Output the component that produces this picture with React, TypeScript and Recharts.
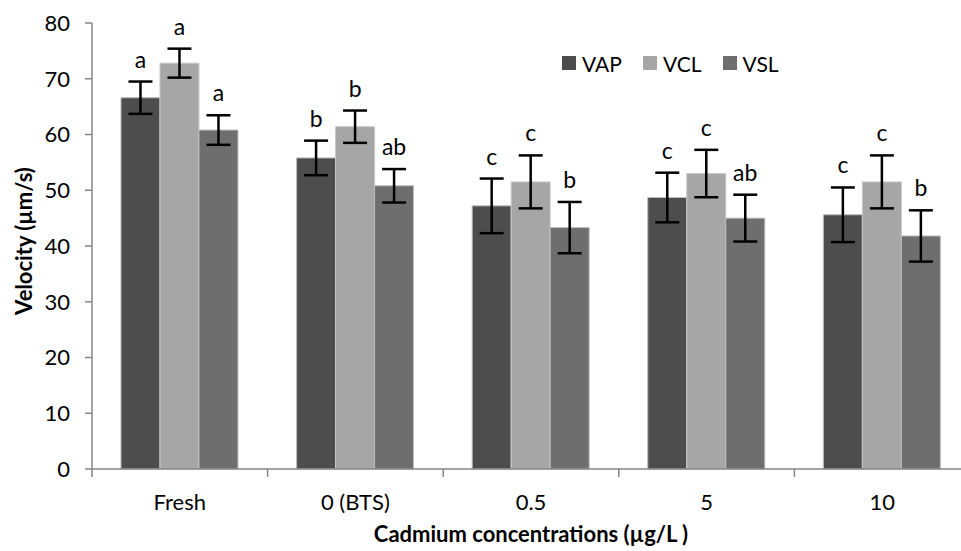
import React from "react";
import {
  BarChart,
  Bar,
  XAxis,
  YAxis,
  Legend,
  ErrorBar,
  LabelList,
  Label,
} from "recharts";

const categories = ["Fresh", "0 (BTS)", "0.5", "5", "10"];
const vap = [66.6, 55.8, 47.2, 48.7, 45.6];
const vcl = [72.8, 61.4, 51.5, 53.0, 51.5];
const vsl = [60.8, 50.8, 43.3, 45.0, 41.8];
const vapErr = [2.9, 3.1, 4.9, 4.45, 4.9];
const vclErr = [2.6, 2.9, 4.75, 4.25, 4.75];
const vslErr = [2.65, 3.0, 4.6, 4.2, 4.6];
const vapLetters = ["a", "b", "c", "c", "c"];
const vclLetters = ["a", "b", "c", "c", "c"];
const vslLetters = ["a", "ab", "b", "ab", "b"];
const yTicks = [0, 10, 20, 30, 40, 50, 60, 70, 80];

const data = categories.map((c, i) => ({
  name: c,
  VAP: vap[i],
  VCL: vcl[i],
  VSL: vsl[i],
  vapErr: vapErr[i],
  vclErr: vclErr[i],
  vslErr: vslErr[i],
}));

const colors = { VAP: "#4d4d4d", VCL: "#a6a6a6", VSL: "#6e6e6e" };
const FONT = "Lato, 'Open Sans', sans-serif";
const LEGEND_H = 20;

// letter above the error bar cap
const makeLetter = (values: number[], errs: number[], letters: string[]) => (props: any) => {
  const vb = props.viewBox || {};
  const x = props.x ?? vb.x;
  const y = props.y ?? vb.y;
  const width = props.width ?? vb.width;
  const height = props.height ?? vb.height;
  const i = props.index;
  if (x == null || i == null) return null;
  const top = Math.min(y, y + height);
  const pxPerUnit = Math.abs(height) / values[i];
  const errTop = top - errs[i] * pxPerUnit;
  return (
    <text x={x + width / 2} y={errTop - 14} textAnchor="middle" fontSize={23} fill="#000" fontFamily={FONT}>
      {letters[i]}
    </text>
  );
};

const XTick = (props: any) => {
  const { x, y, payload, width, visibleTicksCount } = props;
  const half = payload?.offset || (width && visibleTicksCount ? width / visibleTicksCount / 2 : 88);
  return (
    <g>
      <line x1={x - half} x2={x - half} y1={y} y2={y + 8} stroke="#868686" strokeWidth={1.5} />
      <text x={x} y={y + 41} textAnchor="middle" fontSize={22} fill="#000" fontFamily={FONT}>
        {payload.value}
      </text>
    </g>
  );
};

const LegendContent = (props: any) => {
  const items = props.payload || [];
  return (
    <div style={{ display: "flex", alignItems: "center", height: LEGEND_H, fontFamily: FONT, fontSize: 21, color: "#000" }}>
      {items.map((it: any) => (
        <div key={it.value} style={{ display: "flex", alignItems: "center", marginRight: 21 }}>
          <span style={{ width: 14, height: 14, background: it.color, display: "inline-block", marginRight: 6 }} />
          <span>{it.value}</span>
        </div>
      ))}
    </div>
  );
};

export default function App() {
  return (
    <div
      style={{
        position: "absolute",
        left: 0,
        top: 0,
        width: 961,
        height: 551,
        overflow: "hidden",
        background: "#fff",
        fontFamily: FONT,
      }}
    >
      <BarChart
        width={975}
        height={551}
        data={data}
        margin={{ top: 23, right: 5, bottom: 0, left: 0 }}
        barCategoryGap="16.5%"
        barGap={0}
      >
        <XAxis
          dataKey="name"
          height={82 - LEGEND_H}
          tickLine={false}
          tickSize={0}
          tickMargin={0}
          stroke="#868686"
          strokeWidth={1.5}
          tick={<XTick />}
          interval={0}
        >
          <Label
            content={(p: any) => {
              const vb = p.viewBox;
              return (
                <text
                  x={vb.x + vb.width / 2}
                  y={vb.y + 73}
                  textAnchor="middle"
                  fontSize={22}
                  fontWeight="bold"
                  fill="#000"
                  fontFamily={FONT}
                >
                  Cadmium concentrations (µg/L )
                </text>
              );
            }}
          />
        </XAxis>
        <YAxis
          width={92}
          domain={[0, 80]}
          ticks={yTicks}
          interval={0}
          tickSize={7}
          tickMargin={15}
          stroke="#868686"
          strokeWidth={1.5}
          tick={{ fontSize: 22, fill: "#000", fontFamily: FONT }}
        >
          <Label
            content={(p: any) => {
              const vb = p.viewBox;
              const cx = 23;
              const cy = vb.y + vb.height / 2 - 5;
              return (
                <text
                  x={cx}
                  y={cy}
                  transform={`rotate(-90 ${cx} ${cy})`}
                  textAnchor="middle"
                  dominantBaseline="central"
                  fontSize={22}
                  fontWeight="bold"
                  fill="#000"
                  fontFamily={FONT}
                >
                  Velocity (µm/s)
                </text>
              );
            }}
          />
        </YAxis>
        <Legend
          content={<LegendContent />}
          wrapperStyle={{ top: 53, left: 562, width: 300, height: LEGEND_H }}
        />
        <Bar dataKey="VAP" fill={colors.VAP} stroke="#bdbdbd" strokeWidth={1} isAnimationActive={false}>
          <ErrorBar dataKey="vapErr" width={12} strokeWidth={2.5} stroke="#000" direction="y" />
          <LabelList dataKey="VAP" content={makeLetter(vap, vapErr, vapLetters)} />
        </Bar>
        <Bar dataKey="VCL" fill={colors.VCL} stroke="#c8c8c8" strokeWidth={1} isAnimationActive={false}>
          <ErrorBar dataKey="vclErr" width={12} strokeWidth={2.5} stroke="#000" direction="y" />
          <LabelList dataKey="VCL" content={makeLetter(vcl, vclErr, vclLetters)} />
        </Bar>
        <Bar dataKey="VSL" fill={colors.VSL} stroke="#bdbdbd" strokeWidth={1} isAnimationActive={false}>
          <ErrorBar dataKey="vslErr" width={12} strokeWidth={2.5} stroke="#000" direction="y" />
          <LabelList dataKey="VSL" content={makeLetter(vsl, vslErr, vslLetters)} />
        </Bar>
      </BarChart>
    </div>
  );
}
